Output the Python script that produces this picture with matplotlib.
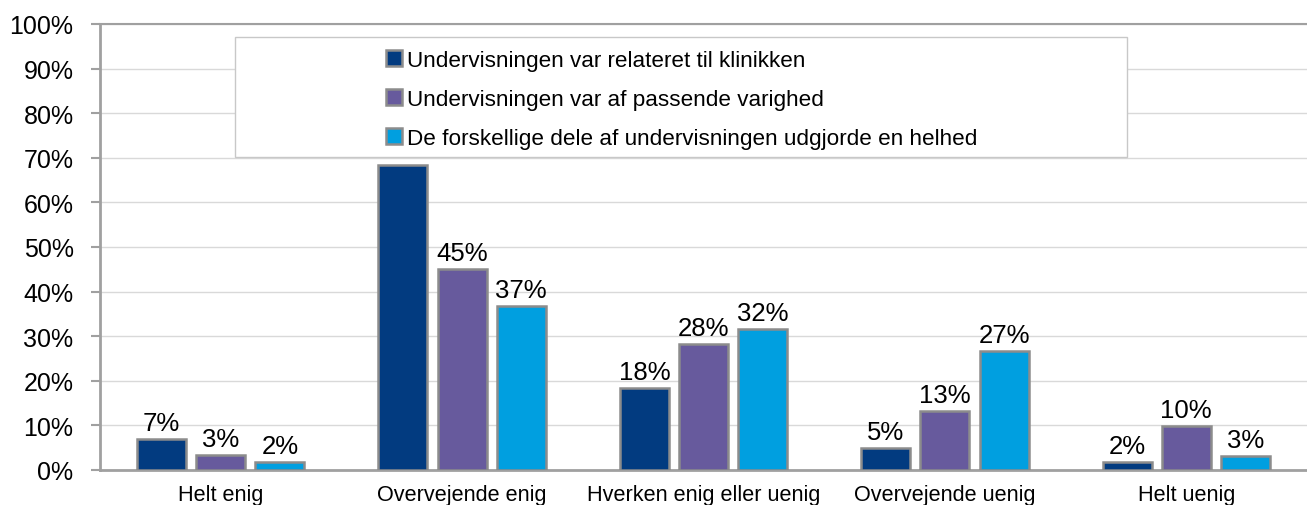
import matplotlib.pyplot as plt
import numpy as np
from matplotlib.patches import Rectangle

plt.rcParams['font.family'] = ['Liberation Sans', 'DejaVu Sans']

categories = ['Helt enig', 'Overvejende enig', 'Hverken enig eller uenig',
              'Overvejende uenig', 'Helt uenig']
series_names = ['Undervisningen var relateret til klinikken',
                'Undervisningen var af passende varighed',
                'De forskellige dele af undervisningen udgjorde en helhed']
relateret = [6.9, 68.4, 18.4, 4.9, 1.8]
varighed = [3.4, 45.1, 28.3, 13.2, 9.9]
helhed = [1.8, 36.8, 31.6, 26.7, 3.2]
colors = ['#023B80', '#675A9D', '#009FE0']
# (series, category) whose data label is covered by the legend in the original
hidden_labels = [(0, 1)]

fig = plt.figure(figsize=(13.07, 5.06), dpi=100)
ax = fig.add_axes([100 / 1307, 35 / 506, 1207 / 1307, 446 / 506])

x = np.arange(len(categories))
width = 0.203
pitch = 0.245
for i, (vals, name) in enumerate(zip([relateret, varighed, helhed], series_names)):
    pos = x + (i - 1) * pitch
    ax.bar(pos, vals, width, color=colors[i], edgecolor='#8C8C8C',
           linewidth=1.8, label=name, zorder=3)
    for j, (px, v) in enumerate(zip(pos, vals)):
        if (i, j) in hidden_labels:
            continue
        ax.annotate('%.0f%%' % v, (px, v), xytext=(0, 3), textcoords='offset points',
                    ha='center', va='bottom', fontsize=18.5, color='#000000', zorder=4)

ax.set_xlim(-0.5, len(categories) - 0.5)
ax.set_ylim(0, 100)
ax.set_yticks(np.arange(0, 101, 10))
ax.set_yticklabels(['%d%%' % t for t in range(0, 101, 10)], fontsize=18)
ax.set_xticks(x)
ax.set_xticklabels(categories, fontsize=15.6)
ax.tick_params(axis='x', length=0, pad=10)
ax.tick_params(axis='y', length=6.5, width=1.5, color='#A0A0A0', pad=12.5)
ax.yaxis.grid(True, color='#D9D9D9', linewidth=1, zorder=0)
ax.set_axisbelow(True)
for s in ['top', 'right']:
    ax.spines[s].set_visible(False)
for s in ['left', 'bottom']:
    ax.spines[s].set_color('#A0A0A0')
    ax.spines[s].set_linewidth(2)
ax.axhline(100, color='#A0A0A0', linewidth=1.5, zorder=1, clip_on=False)

# legend box is wider than its content, so draw it separately
fig_box = Rectangle((235, 506 - 158), 1127 - 235, 120, transform=None,
                    facecolor='white', edgecolor='#C8C8C8', linewidth=1, zorder=10)
fig.patches.append(fig_box)
leg = fig.legend(loc='upper left', bbox_to_anchor=(377 / 1307, (506 - 42) / 506),
                 frameon=False, fontsize=16.2, handlelength=0.72, handleheight=0.72,
                 handletextpad=0.2, labelspacing=0.8, borderaxespad=0)
leg.set_zorder(11)

fig.savefig('out.png', dpi=100)
